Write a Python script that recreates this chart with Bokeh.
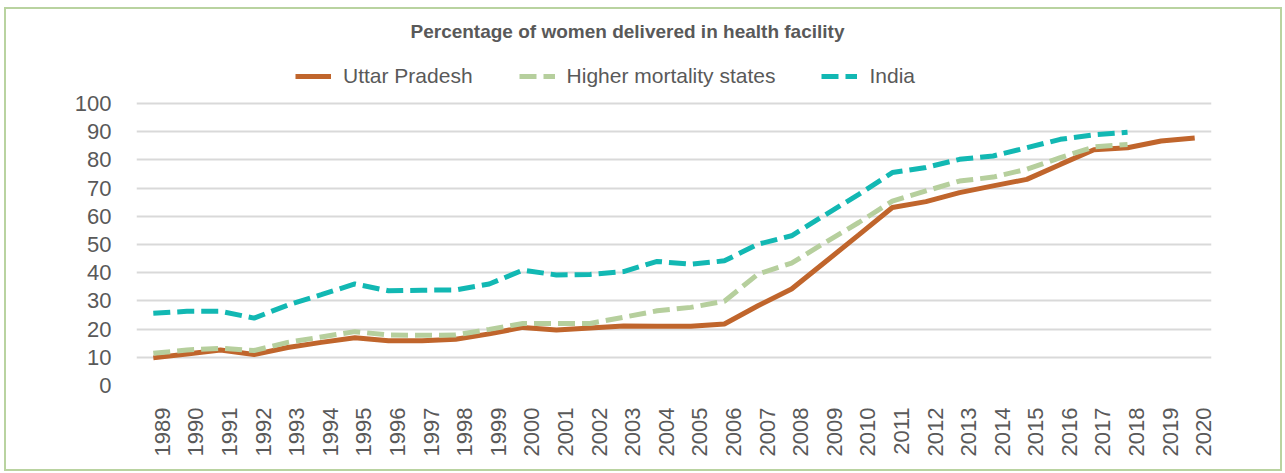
import math
from bokeh.plotting import figure
from bokeh.models import Legend, LegendItem, FixedTicker, Range1d, Label
from bokeh.embed import file_html
from bokeh.resources import INLINE

years = list(range(1989, 2021))
uttar_pradesh = [9.8, 11.2, 12.6, 11.0, 13.5, 15.3, 16.9, 15.9, 15.9, 16.4,
                 18.3, 20.6, 19.7, 20.4, 21.1, 21.0, 21.0, 21.8, 28.3, 34.2,
                 43.8, 53.4, 63.1, 65.2, 68.4, 70.8, 73.1, 78.4, 83.6, 84.3,
                 86.7, 87.8]
years_short = list(range(1989, 2019))
higher_mortality = [11.4, 12.6, 13.2, 12.4, 15.3, 17.2, 19.1, 17.9, 17.8, 17.9,
                    19.9, 22.0, 22.0, 22.0, 24.2, 26.5, 27.7, 29.9, 39.5, 43.4,
                    50.7, 57.8, 65.4, 69.0, 72.5, 73.9, 76.7, 80.8, 84.6, 85.5]
india = [25.6, 26.3, 26.3, 23.9, 28.5, 32.2, 36.0, 33.6, 33.8, 33.9,
         36.0, 40.9, 39.2, 39.4, 40.4, 44.0, 43.0, 44.2, 50.1, 53.1,
         60.5, 67.8, 75.5, 77.3, 80.2, 81.4, 84.3, 87.3, 88.9, 89.8]
y_ticks = list(range(0, 101, 10))
title_text = "Percentage of women delivered in health facility"

TEXT = "#595959"
BORDER = "#B9D3A0"
W, H = 1285, 473

# frame extends above 100 so the title and legend sit inside it (not clipped);
# only ticks 0..100 are shown
TOP_PX, BOTTOM_PX = 10, 385
PX_PER_UNIT = (385 - 103) / 100.0
y_top = (BOTTOM_PX - TOP_PX) / PX_PER_UNIT

p = figure(width=W, height=H, output_backend="svg", toolbar_location=None,
           x_range=Range1d(1988.5, 2020.5), y_range=Range1d(0, y_top),
           min_border_left=136, min_border_right=W - 1211, min_border_top=TOP_PX,
           min_border_bottom=H - BOTTOM_PX)
p.outline_line_color = None
p.background_fill_color = None
p.border_fill_color = None
g = "linear-gradient({c},{c})".format(c=BORDER)
p.styles = {"background": ", ".join([
    g + " 4px 7px / 1278px 2px no-repeat",
    g + " 4px 469px / 1278px 2px no-repeat",
    g + " 4px 7px / 2px 464px no-repeat",
    g + " 1280px 7px / 2px 464px no-repeat",
])}

# lines
r_up = p.line(years, uttar_pradesh, line_color="#C0652C", line_width=5)
r_hm = p.line(years_short, higher_mortality, line_color="#B6CF9D", line_width=5,
              line_dash="17 7")
r_in = p.line(years_short, india, line_color="#12B8B3", line_width=5,
              line_dash="17 7")

# axes
shift = 0.27
xt = [y + shift for y in years]
p.xaxis.ticker = FixedTicker(ticks=xt)
p.xaxis.major_label_overrides = {t: str(y) for t, y in zip(xt, years)}
p.xaxis.major_label_orientation = math.pi / 2
p.yaxis.ticker = FixedTicker(ticks=y_ticks)
for ax in (p.xaxis, p.yaxis):
    ax.axis_line_color = None
    ax.major_tick_line_color = None
    ax.minor_tick_line_color = None
    ax.major_label_text_color = TEXT
    ax.major_label_text_font = "Liberation Sans"
    ax.major_label_text_font_size = "22px"
p.xaxis.major_label_standoff = 16
p.yaxis.major_label_standoff = 19

p.xgrid.grid_line_color = None
p.ygrid.grid_line_color = "#D9D9D9"
p.ygrid.grid_line_width = 2

legend = Legend(items=[
    LegendItem(label="Uttar Pradesh", renderers=[r_up]),
    LegendItem(label="Higher mortality states", renderers=[r_hm]),
    LegendItem(label="India", renderers=[r_in]),
], orientation="horizontal", location=(159, 297))
legend.border_line_color = None
legend.background_fill_alpha = 0
legend.padding = 0
legend.margin = 0
legend.spacing = 46
legend.glyph_width = 36
legend.glyph_height = 22
legend.label_height = 22
legend.label_standoff = 12
legend.label_text_font = "Liberation Sans"
legend.label_text_font_size = "21px"
legend.label_text_color = TEXT
p.add_layout(legend, "center")

title = Label(x=274, y=354, x_units="screen", y_units="screen", text=title_text,
              text_align="left", text_baseline="alphabetic",
              text_font="Liberation Sans", text_font_style="bold",
              text_font_size="19px", text_color=TEXT)
p.add_layout(title)

open("out.html", "w").write(file_html(p, INLINE))
